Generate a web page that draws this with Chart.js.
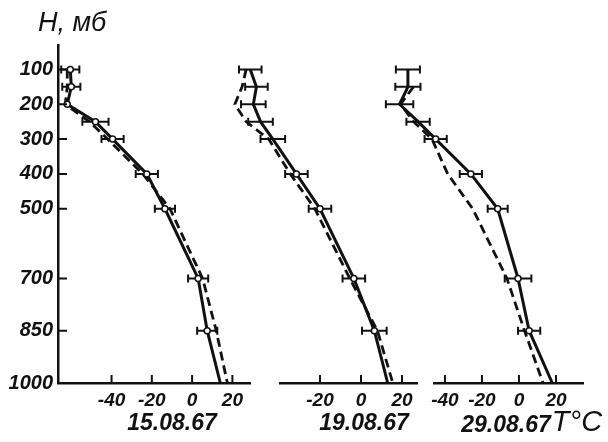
<!DOCTYPE html>
<html>
<head>
<meta charset="utf-8">
<script src="https://cdn.jsdelivr.net/npm/chart.js@4.4.1/dist/chart.umd.min.js"></script>
<style>
  html, body { margin: 0; padding: 0; background: #fff; }
  body { width: 608px; height: 442px; position: relative; overflow: hidden; }
  .panel { position: absolute; }
  .lbl { position: absolute; transform: translate(-50%, -50%); font-family: "Liberation Sans", sans-serif;
         font-style: italic; color: #111; line-height: 1; white-space: nowrap; }
</style>
</head>
<body>
<div class="panel" id="p1" style="left:0px; top:25px; width:256px; height:388px;"><canvas id="c1"></canvas></div>
<div class="panel" id="p2" style="left:225px; top:25px; width:200px; height:388px;"><canvas id="c2"></canvas></div>
<div class="panel" id="p3" style="left:380px; top:25px; width:228px; height:388px;"><canvas id="c3"></canvas></div>

<div class="lbl" style="left:72px; top:22px; font-size:27px;">H, мб</div>
<div class="lbl" style="left:172px; top:422px; font-size:23px; font-weight:bold;">15.08.67</div>
<div class="lbl" style="left:364px; top:422px; font-size:23px; font-weight:bold;">19.08.67</div>
<div class="lbl" style="left:506px; top:424px; font-size:23px; font-weight:bold;">29.08.67</div>
<div class="lbl" style="left:577px; top:421px; font-size:29px;">T°C</div>

<script>
// pressure levels, mb
const levels = [100, 150, 200, 250, 300, 400, 500, 700, 850, 1000];
const pressureTicks = [100, 200, 300, 400, 500, 700, 850, 1000];

// 15.08.67
const solid1  = [-60.5, -60, -62, -48, -39.5, -22.5, -13.5, 3, 7.5, 14];
const dashed1 = [-62, -62, -63, -51, -42, -24.5, -11, 5.2, 12, 17.5];
const err1    = [4.5, 4.5, 0, 6.5, 5.5, 5.5, 5, 5, 5, 0];
const ticks1  = [-40, -20, 0, 20];

// 19.08.67
const solid2  = [-54, -51, -52.5, -49, -43, -31.5, -20, -3.5, 6.5, 13];
const dashed2 = [-56, -58, -61.5, -56, -45, -34.5, -22.5, -5.5, 8, 15.5];
const err2    = [5.5, 5.5, 6, 6, 6, 5.5, 5.5, 5.5, 6, 0];
const ticks2  = [-20, 0, 20];

// 29.08.67
const solid3  = [-60, -60, -64.5, -54.5, -45, -26, -11.5, -0.5, 5.5, 18];
const dashed3 = [null, -57, -64, -57, -47, -38.5, -25, -6.5, 3, 13];
const err3    = [6.5, 6.8, 7.4, 6.3, 6, 6, 5.4, 7.2, 6, 0];
const ticks3  = [-40, -20, 0, 20];

const INK = "#111";
Chart.defaults.font.family = "'Liberation Sans', sans-serif";
Chart.defaults.color = INK;

function toPoints(temps) {
    return levels.map((p, i) => ({ x: temps[i], y: p })).filter(pt => pt.x !== null);
}

// horizontal error bars under the solid profile
const errorBars = {
    id: "errorBars",
    beforeDatasetsDraw(chart) {
        const { ctx, scales: { x, y } } = chart;
        chart.data.datasets.forEach(ds => {
            if (!ds.errors) return;
            ds.data.forEach((pt, i) => {
                const e = ds.errors[i];
                if (!e) return;
                const yp = y.getPixelForValue(pt.y);
                const x1 = x.getPixelForValue(pt.x - e);
                const x2 = x.getPixelForValue(pt.x + e);
                ctx.save();
                ctx.strokeStyle = INK;
                ctx.lineWidth = 2;
                ctx.beginPath();
                ctx.moveTo(x1, yp); ctx.lineTo(x2, yp);
                ctx.moveTo(x1, yp - 4); ctx.lineTo(x1, yp + 4);
                ctx.moveTo(x2, yp - 4); ctx.lineTo(x2, yp + 4);
                ctx.stroke();
                ctx.restore();
            });
        });
    }
};

// tick marks pointing into the plot
const innerTicks = {
    id: "innerTicks",
    afterDraw(chart) {
        const { ctx, chartArea: a, scales: { x, y } } = chart;
        ctx.save();
        ctx.strokeStyle = INK;
        ctx.lineWidth = 2;
        ctx.beginPath();
        x.ticks.forEach(t => {
            const px = x.getPixelForValue(t.value);
            ctx.moveTo(px, a.bottom); ctx.lineTo(px, a.bottom - 8);
        });
        if (y.options.display) {
            y.ticks.forEach(t => {
                const py = y.getPixelForValue(t.value);
                ctx.moveTo(a.left, py); ctx.lineTo(a.left + 9, py);
            });
        }
        ctx.stroke();
        ctx.restore();
    }
};

function makePanel(canvasId, solid, dashed, errors, xTicks, xMin, xMax, showY, pad) {
    return new Chart(document.getElementById(canvasId), {
        type: "scatter",
        data: {
            datasets: [
                {
                    data: toPoints(solid),
                    errors: errors,
                    showLine: true,
                    borderColor: INK,
                    borderWidth: 3,
                    pointRadius: ctx => (levels[ctx.dataIndex] < 1000 ? 3 : 0),
                    pointBackgroundColor: "#fff",
                    pointBorderColor: INK,
                    pointBorderWidth: 1.5,
                    clip: false
                },
                {
                    data: toPoints(dashed),
                    showLine: true,
                    borderColor: INK,
                    borderWidth: 2.8,
                    borderDash: [9, 5],
                    pointRadius: 0,
                    clip: false
                }
            ]
        },
        options: {
            responsive: true,
            maintainAspectRatio: false,
            animation: false,
            events: [],
            layout: { padding: pad },
            plugins: { legend: { display: false }, tooltip: { enabled: false } },
            scales: {
                x: {
                    type: "linear",
                    min: xMin,
                    max: xMax,
                    afterBuildTicks: s => { s.ticks = xTicks.map(v => ({ value: v })); },
                    afterFit: s => { s.height = 30; },
                    grid: { display: false, drawTicks: false },
                    border: { display: true, color: INK, width: 2.5 },
                    ticks: {
                        padding: 6,
                        font: { size: 19, style: "italic", weight: "bold" },
                        callback: v => String(v)
                    }
                },
                y: {
                    type: "linear",
                    display: showY,
                    reverse: true,
                    min: 30,
                    max: 1000,
                    afterBuildTicks: s => { s.ticks = pressureTicks.map(v => ({ value: v })); },
                    afterFit: s => { s.width = showY ? 58 : 0; },
                    grid: { display: false, drawTicks: false },
                    border: { display: true, color: INK, width: 2.5 },
                    ticks: {
                        padding: 5,
                        font: { size: 20, style: "italic", weight: "bold" },
                        callback: v => String(v)
                    }
                }
            }
        },
        plugins: [errorBars, innerTicks]
    });
}

makePanel("c1", solid1, dashed1, err1, ticks1, -66.6, 29, true,  { top: 20, right: 5, left: 0, bottom: 0 });
makePanel("c2", solid2, dashed2, err2, ticks2, -39.5, 27.3, false, { top: 20, right: 8, left: 55, bottom: 0 });
makePanel("c3", solid3, dashed3, err3, ticks3, -45.9, 34.6, false, { top: 20, right: 25, left: 54, bottom: 0 });
</script>
</body>
</html>
